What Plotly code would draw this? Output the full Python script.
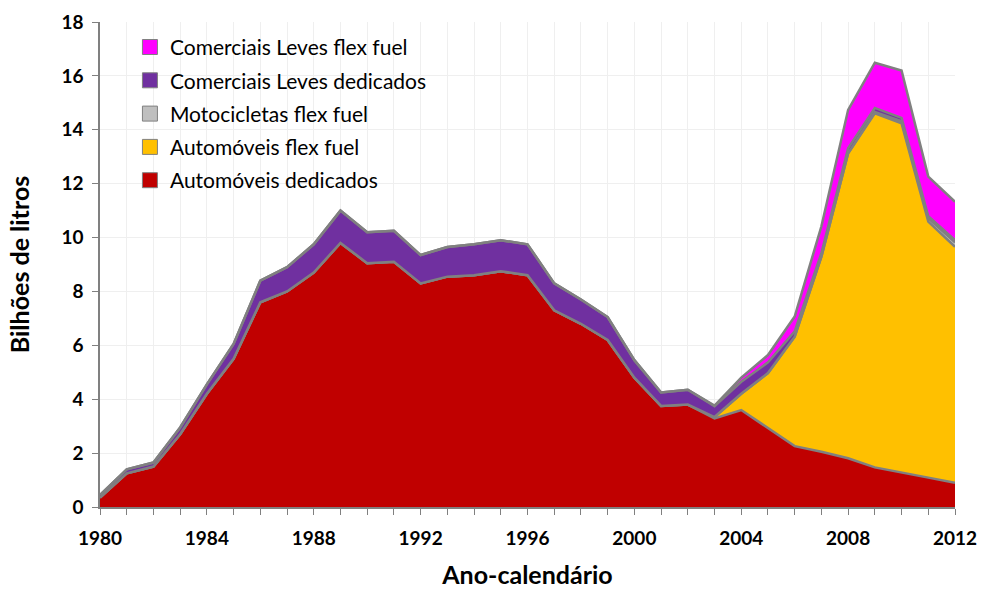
import plotly.graph_objects as go

# anos-calendário
anos = list(range(1980, 2013))

# consumo em bilhões de litros
automoveis_dedicados = [0.35, 1.25, 1.5, 2.7, 4.2, 5.5, 7.6, 8.0, 8.7, 9.8,
                        9.05, 9.1, 8.3, 8.55, 8.6, 8.75, 8.6, 7.3, 6.8, 6.2,
                        4.8, 3.75, 3.8, 3.29, 3.6, 2.92, 2.26, 2.05, 1.81, 1.47,
                        1.29, 1.09, 0.9]
automoveis_flex = [0] * 23 + [0.05, 0.6, 2.05, 4.06, 7.24, 11.32, 13.14,
                              12.95, 9.5, 8.76]
motos_flex = [0] * 29 + [0.05, 0.08, 0.12, 0.16]
comerciais_dedicados = [0.1, 0.15, 0.15, 0.25, 0.35, 0.55, 0.8, 0.9, 1.05, 1.2,
                        1.15, 1.15, 1.05, 1.1, 1.15, 1.15, 1.15, 1.0, 0.9, 0.85,
                        0.65, 0.5, 0.55, 0.4, 0.45, 0.4, 0.2, 0.13, 0.18, 0.15,
                        0.12, 0.08, 0.08]
comerciais_flex = [0] * 23 + [0.02, 0.15, 0.27, 0.55, 1.0, 1.43, 1.68,
                              1.76, 1.47, 1.43]

series = [
    ("Automóveis dedicados", automoveis_dedicados, "#C00000"),
    ("Automóveis flex fuel", automoveis_flex, "#FFC000"),
    ("Motocicletas flex fuel", motos_flex, "#BFBFBF"),
    ("Comerciais Leves dedicados", comerciais_dedicados, "#7030A0"),
    ("Comerciais Leves flex fuel", comerciais_flex, "#FF00FF"),
]

fig = go.Figure()
for i, (nome, valores, cor) in enumerate(series):
    fig.add_trace(go.Scatter(
        x=anos, y=valores, name=nome, mode="lines",
        stackgroup="one", legendgroup=str(i), showlegend=False,
        line=dict(color="#808080", width=2.5),
        fillcolor=cor,
    ))
    # entrada de legenda com quadradinho, como no original
    fig.add_trace(go.Scatter(
        x=[None], y=[None], name=nome, mode="markers",
        legendgroup=str(i), legendrank=100 - i * 10,
        marker=dict(symbol="square", size=15, color=cor,
                    line=dict(color="#808080", width=1)),
    ))

font = "Lato, Open Sans, sans-serif"

fig.update_layout(
    width=982, height=589,
    margin=dict(l=100, r=27, t=22, b=82),
    paper_bgcolor="white", plot_bgcolor="white",
    font=dict(family=font, color="black"),
    showlegend=True,
    legend=dict(
        x=0.035, y=0.99, xanchor="left", yanchor="top",
        traceorder="grouped", tracegroupgap=3, itemwidth=30,
        font=dict(size=21, family=font),
        bgcolor="rgba(0,0,0,0)",
    ),
)

fig.update_xaxes(
    range=[1980, 2012], dtick=4, tick0=1980,
    ticks="outside", ticklen=6, tickcolor="#808080",
    showline=True, linecolor="#808080", linewidth=1.5,
    showgrid=True, gridcolor="#EFEFEF",
    minor=dict(dtick=1, ticks="outside", ticklen=6, tickcolor="#808080",
               showgrid=True, gridcolor="#EFEFEF"),
    tickfont=dict(size=19, family=font, weight="bold"),
    ticklabelstandoff=7,
    title=dict(text="<b>Ano-calendário</b>", font=dict(size=25, family=font),
               standoff=27),
    automargin=False, zeroline=False,
)
fig.update_yaxes(
    range=[0, 18], dtick=2,
    ticks="outside", ticklen=6, tickcolor="#808080",
    showline=True, linecolor="#808080", linewidth=1.5,
    showgrid=True, gridcolor="#EFEFEF",
    tickfont=dict(size=19, family=font, weight="bold"),
    ticklabelstandoff=5,
    title=dict(text="<b>Bilhões de litros</b>", font=dict(size=25, family=font),
               standoff=25),
    automargin=False, zeroline=False,
)

# a página tem margem padrão de 8px no body; zera para alinhar a figura
fig.write_html("out.html", config={"displayModeBar": False},
               post_script="document.body.style.margin='0';")
